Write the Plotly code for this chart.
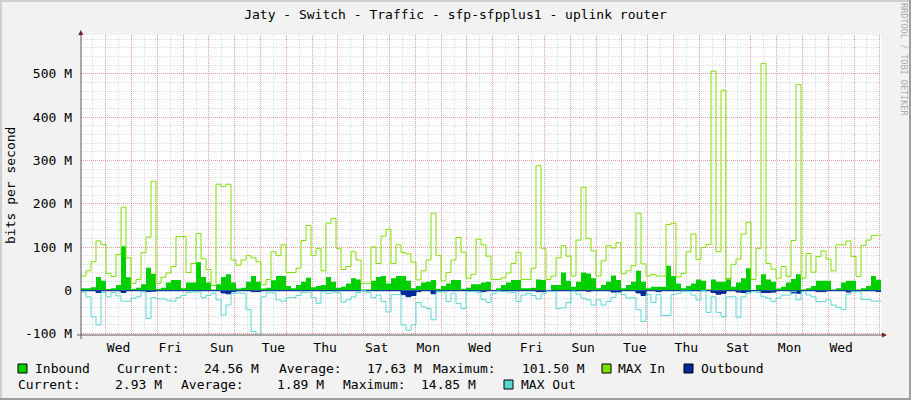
import plotly.graph_objects as go

# ---------------- data (values in Mbit/s) ----------------
TITLE = "Jaty - Switch - Traffic - sfp-sfpplus1 - uplink router"
Y_LABEL = "bits per second"
WATERMARK = "RRDTOOL / TOBI OETIKER"
DAY_LABELS = ["Wed", "Fri", "Sun", "Tue", "Thu", "Sat", "Mon", "Wed",
              "Fri", "Sun", "Tue", "Thu", "Sat", "Mon", "Wed"]
Y_TICK_VALUES = [-100, 0, 100, 200, 300, 400, 500]
Y_TICK_LABELS = ["-100 M", "0", "100 M", "200 M", "300 M", "400 M", "500 M"]

PERIOD_DAYS = 31          # one month shown
START_DAY = -0.957        # graph start, in days relative to first Wed 00:00

# Inbound average (green area)
IN_AVG = [5, 5, 7, 31, 22, 3, 5, 12, 101.5, 30,
          3, 6, 14, 52, 38, 3, 6, 18, 24, 24,
          5, 18, 18, 65, 31, 18, 2, 14, 31, 37,
          18, 4, 6, 20, 33, 20, 4, 6, 23, 33,
          33, 10, 5, 12, 20, 29, 7, 10, 12, 31,
          20, 6, 8, 16, 28, 25, 2, 2, 22, 31,
          33, 16, 28, 33, 33, 22, 5, 10, 18, 20,
          24, 3, 10, 16, 24, 24, 3, 6, 14, 14,
          18, 20, 1, 5, 12, 18, 24, 24, 5, 5,
          6, 25, 24, 1, 12, 12, 41, 22, 8, 20,
          41, 39, 28, 5, 12, 20, 34, 24, 5, 12,
          20, 45, 20, 5, 8, 8, 8, 57, 33, 16,
          5, 10, 16, 25, 22, 2, 25, 20, 20, 28,
          8, 18, 28, 51, 1, 12, 37, 25, 20, 4,
          8, 18, 26, 37, 2, 5, 10, 22, 22, 22,
          2, 5, 18, 22, 22, 2, 5, 10, 33, 24.56]

# Inbound maximum (lime line)
IN_MAX = [33, 45, 66, 114, 106, 39, 32, 83, 192, 75,
          16, 25, 87, 123, 252, 16, 30, 40, 55, 124,
          124, 41, 62, 131, 73, 48, 11, 245, 240, 245,
          70, 58, 70, 80, 75, 66, 13, 25, 89, 80,
          105, 41, 41, 51, 115, 150, 80, 97, 45, 155,
          166, 97, 48, 55, 89, 70, 16, 16, 100, 62,
          125, 141, 62, 105, 87, 84, 65, 24, 45, 70,
          178, 80, 22, 41, 70, 122, 88, 28, 37, 118,
          105, 79, 25, 25, 29, 40, 62, 88, 25, 25,
          51, 288, 97, 25, 33, 75, 103, 79, 33, 116,
          238, 120, 91, 33, 68, 103, 98, 110, 38, 45,
          57, 178, 61, 33, 37, 33, 33, 152, 155, 31,
          39, 89, 130, 71, 99, 106, 506, 89, 462, 25,
          60, 72, 130, 157, 25, 97, 524, 62, 49, 28,
          55, 32, 115, 475, 28, 85, 42, 78, 91, 72,
          45, 105, 105, 114, 78, 32, 104, 116, 127, 127]

# Outbound average (navy area, graphed below zero)
OUT_AVG = [1.0, 1.0, 1.0, 5.0, 1.0, 1.0, 1.0, 1.0, 5.0, 1.0,
           1.0, 1.0, 1.0, 3.0, 2.0, 1.0, 1.0, 1.0, 1.0, 1.0,
           1.0, 1.0, 1.0, 1.0, 1.0, 1.0, 1.0, 1.0, 6.0, 8.0,
           3.0, 1.0, 1.0, 1.0, 3.0, 3.0, 1.0, 1.0, 1.0, 1.0,
           1.0, 1.0, 1.0, 1.0, 1.0, 1.0, 1.0, 1.0, 1.0, 1.0,
           1.0, 1.0, 1.0, 1.0, 1.0, 1.0, 1.0, 1.0, 1.0, 1.0,
           1.0, 1.0, 1.0, 1.0, 10.0, 14.85, 12.0, 3.0, 1.0, 1.0,
           8.0, 3.0, 1.0, 1.0, 1.0, 1.0, 1.0, 1.0, 1.0, 1.0,
           3.0, 1.0, 1.0, 1.0, 1.0, 1.0, 1.0, 1.0, 1.0, 1.0,
           1.0, 3.0, 3.0, 1.0, 1.0, 1.0, 1.0, 1.0, 1.0, 1.0,
           1.0, 2.0, 1.0, 1.0, 1.0, 1.0, 4.0, 5.0, 1.0, 1.0,
           1.0, 6.0, 12.0, 1.0, 1.0, 3.0, 1.0, 1.0, 1.0, 1.0,
           1.0, 1.0, 1.0, 1.0, 1.0, 1.0, 5.0, 9.0, 7.0, 1.0,
           1.0, 4.0, 5.0, 3.0, 1.0, 1.0, 5.0, 5.0, 4.0, 1.0,
           1.0, 1.0, 6.0, 7.0, 1.0, 1.0, 1.0, 3.0, 3.0, 1.0,
           1.0, 1.0, 1.0, 4.0, 3.0, 1.0, 1.0, 1.0, 1.0, 2.93]

# Outbound maximum (cyan line, graphed below zero)
OUT_MAX = [4, 15, 61, 80, 5, 15, 5, 13, 25, 25,
           18, 15, 4, 65, 17, 20, 20, 23, 25, 17,
           12, 5, 4, 4, 17, 12, 7, 22, 57, 34,
           7, 6, 7, 44, 95, 108, 15, 6, 6, 22,
           25, 17, 17, 12, 5, 4, 17, 30, 3, 7,
           4, 6, 27, 22, 15, 5, 1, 5, 17, 11,
           26, 50, 10, 10, 80, 92, 80, 28, 38, 42,
           68, 3, 4, 26, 7, 30, 42, 3, 3, 5,
           21, 28, 8, 2, 3, 4, 5, 26, 11, 7,
           12, 20, 8, 2, 3, 42, 40, 28, 2, 9,
           18, 22, 34, 22, 34, 26, 16, 5, 10, 18,
           17, 45, 72, 10, 28, 10, 58, 58, 10, 7,
           2, 2, 11, 22, 1, 51, 15, 51, 61, 15,
           15, 62, 15, 7, 3, 5, 15, 18, 26, 18,
           11, 11, 3, 22, 3, 11, 15, 26, 26, 22,
           34, 39, 44, 9, 3, 3, 21, 21, 25, 25]

LEGEND_NAMES = ["Inbound", "MAX In", "Outbound", "MAX Out"]
IN_STATS = ["24.56 M", "17.63 M", "101.50 M"]
OUT_STATS = ["2.93 M", "1.89 M", "14.85 M"]
STAT_NAMES = ["Current:", "Average:", "Maximum:"]

# ---------------- styling ----------------
C_IN = "#00CF00"
C_IN_MAX = "#7FE000"
C_OUT = "#002A97"
C_OUT_MAX = "#5AD7D5"
BG = "#F2F2F2"
GRID_MAJOR = "rgba(222,79,79,0.55)"
GRID_MINOR = "rgba(143,143,143,0.3)"
AXIS_COL = "#5a5a5a"
ARROW_COL = "#801F1F"
FONT = "DejaVu Sans Mono"

W, H = 911, 400
L, R, T, B = 81, 881, 35, 335   # plot area in pixels


def px(x):
    return (x - L) / (R - L)


def py(y):
    return (B - y) / (B - T)


n = len(IN_AVG)
step = PERIOD_DAYS / n
xs = [START_DAY + i * step for i in range(n + 1)]


def edge(vals, sign=1):
    v = [sign * a for a in vals]
    return v + [v[-1]]


fig = go.Figure()
fig.add_trace(go.Scatter(x=xs, y=edge(IN_AVG), mode="lines", line_shape="hv",
                         line=dict(width=0, color=C_IN), fill="tozeroy",
                         fillcolor=C_IN, name=LEGEND_NAMES[0]))
fig.add_trace(go.Scatter(x=xs, y=edge(IN_MAX), mode="lines", line_shape="hv",
                         line=dict(width=1, color=C_IN_MAX), name=LEGEND_NAMES[1]))
fig.add_trace(go.Scatter(x=xs, y=edge(OUT_AVG, -1), mode="lines", line_shape="hv",
                         line=dict(width=1, color=C_OUT), fill="tozeroy",
                         fillcolor=C_OUT, name=LEGEND_NAMES[2]))
fig.add_trace(go.Scatter(x=xs, y=edge(OUT_MAX, -1), mode="lines", line_shape="hv",
                         line=dict(width=1, color=C_OUT_MAX), name=LEGEND_NAMES[3]))

x_range = [START_DAY, START_DAY + PERIOD_DAYS]
label_pos = [0.5 + 2 * i for i in range(len(DAY_LABELS))]

fig.update_layout(
    width=W, height=H, autosize=False,
    margin=dict(l=L, r=W - R, t=T, b=H - B, pad=0),
    paper_bgcolor=BG, plot_bgcolor="#FFFFFF",
    showlegend=False,
    font=dict(family=FONT, size=13, color="#000000"),
    title=dict(text=TITLE, x=0.5, xref="container", xanchor="center",
               y=1 - 14 / H, yanchor="middle",
               font=dict(family=FONT, size=13, color="#000000")),
    xaxis=dict(range=x_range, tickmode="linear", tick0=0, dtick=1,
               showgrid=True, gridcolor=GRID_MAJOR, gridwidth=1, griddash="1px,1px",
               minor=dict(tickmode="linear", tick0=0.5, dtick=1, showgrid=True,
                          gridcolor=GRID_MINOR, gridwidth=1, griddash="1px,1px"),
               showticklabels=False, ticks="", zeroline=False, showline=False,
               fixedrange=True),
    xaxis2=dict(range=x_range, overlaying="x", anchor="y", side="bottom",
                tickmode="array", tickvals=label_pos, ticktext=DAY_LABELS,
                showgrid=False, zeroline=False, showline=False, ticks="",
                ticklabelstandoff=3,
                tickfont=dict(family=FONT, size=13, color="#000000"),
                fixedrange=True),
    yaxis=dict(range=[-103.2, 589.6], tickmode="array", tickvals=Y_TICK_VALUES,
               ticktext=Y_TICK_LABELS, showgrid=True, gridcolor=GRID_MAJOR,
               gridwidth=1, griddash="1px,1px",
               minor=dict(tickmode="array",
                          tickvals=[v for v in range(-100, 590, 20) if v % 100 != 0],
                          showgrid=True,
                          gridcolor=GRID_MINOR, gridwidth=1, griddash="1px,1px"),
               zeroline=False, showline=False, ticks="", ticklabelstandoff=8,
               tickfont=dict(family=FONT, size=13, color="#000000"),
               fixedrange=True),
)

# invisible helper so the label axis is drawn
fig.add_trace(go.Scatter(x=[x_range[0]], y=[0], xaxis="x2", yaxis="y",
                         mode="markers", marker=dict(opacity=0), hoverinfo="skip",
                         showlegend=False))

shapes = []
# axis lines
shapes.append(dict(type="line", xref="paper", yref="paper",
                   x0=px(81), x1=px(81), y0=py(339), y1=py(33),
                   line=dict(color=AXIS_COL, width=1)))
shapes.append(dict(type="line", xref="paper", yref="paper",
                   x0=px(77), x1=px(884), y0=py(335), y1=py(335),
                   line=dict(color=AXIS_COL, width=1)))
# arrows
shapes.append(dict(type="path", xref="paper", yref="paper",
                   path=f"M {px(78.3)},{py(35)} L {px(83.3)},{py(35)} L {px(80.8)},{py(30)} Z",
                   fillcolor=ARROW_COL, line=dict(width=0)))
shapes.append(dict(type="path", xref="paper", yref="paper",
                   path=f"M {px(882)},{py(332.5)} L {px(882)},{py(337.5)} L {px(887)},{py(335)} Z",
                   fillcolor=ARROW_COL, line=dict(width=0)))
# image frame (shade A top/left, shade B bottom/right)
shapes.append(dict(type="rect", xref="paper", yref="paper",
                   x0=px(0), x1=px(2), y0=py(400), y1=py(0),
                   fillcolor="#CFCFCF", line=dict(width=0), layer="below"))
shapes.append(dict(type="rect", xref="paper", yref="paper",
                   x0=px(0), x1=px(911), y0=py(2), y1=py(0),
                   fillcolor="#CFCFCF", line=dict(width=0), layer="below"))
shapes.append(dict(type="rect", xref="paper", yref="paper",
                   x0=px(909), x1=px(911), y0=py(400), y1=py(0),
                   fillcolor="#9E9E9E", line=dict(width=0), layer="below"))
shapes.append(dict(type="rect", xref="paper", yref="paper",
                   x0=px(0), x1=px(911), y0=py(400), y1=py(398),
                   fillcolor="#9E9E9E", line=dict(width=0), layer="below"))

# legend swatches
swatches = [(C_IN, 18, 364), (C_IN_MAX, 602, 364), (C_OUT, 684, 364), (C_OUT_MAX, 504, 380)]
for col, sx, sy in swatches:
    shapes.append(dict(type="rect", xref="paper", yref="paper",
                       x0=px(sx), x1=px(sx + 9), y0=py(sy + 9), y1=py(sy),
                       fillcolor=col, line=dict(color="#000000", width=1)))

fig.update_layout(shapes=shapes)

ann = []


def text(t, x, y, **kw):
    d = dict(text=t, xref="paper", yref="paper", x=px(x), y=py(y),
             xanchor="left", yanchor="middle", showarrow=False,
             font=dict(family=FONT, size=13, color="#000000"), borderpad=0)
    d.update(kw)
    ann.append(d)


row1, row2 = 368, 384.5
text(LEGEND_NAMES[0], 34, row1)
text(STAT_NAMES[0], 116, row1)
text(IN_STATS[0], 203, row1)
text(STAT_NAMES[1], 278, row1)
text(IN_STATS[1], 366, row1)
text(STAT_NAMES[2], 432, row1)
text(IN_STATS[2], 521, row1)
text(LEGEND_NAMES[1], 617, row1)
text(LEGEND_NAMES[2], 700, row1)

text(STAT_NAMES[0], 17, row2)
text(OUT_STATS[0], 114, row2)
text(STAT_NAMES[1], 180, row2)
text(OUT_STATS[1], 276, row2)
text(STAT_NAMES[2], 342, row2)
text(OUT_STATS[2], 420, row2)
text(LEGEND_NAMES[3], 520, row2)

# y axis title
ann.append(dict(text=Y_LABEL, xref="paper", yref="paper", x=px(10), y=py(186),
                xanchor="center", yanchor="middle", textangle=-90, showarrow=False,
                font=dict(family=FONT, size=13, color="#000000")))
# watermark
ann.append(dict(text=WATERMARK, xref="paper", yref="paper", x=px(904), y=py(59),
                xanchor="center", yanchor="middle", textangle=90, showarrow=False,
                font=dict(family=FONT, size=8.5, color="#AAAAAA")))

fig.update_layout(annotations=ann)

fig.write_html("out.html", config={"displayModeBar": False},
               post_script="document.body.style.margin='0';document.body.style.padding='0';")
